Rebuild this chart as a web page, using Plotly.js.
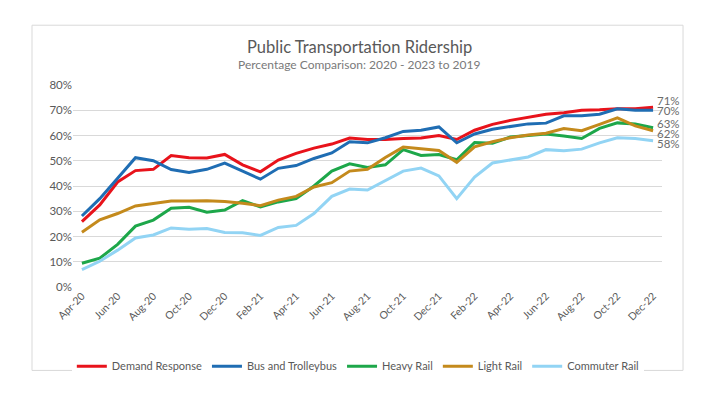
<!DOCTYPE html>
<html>
<head>
<meta charset="utf-8">
<script src="https://cdn.plot.ly/plotly-3.0.1.min.js"></script>
<style>html,body{margin:0;padding:0;background:#fff;}#chart{width:715px;height:393px;}</style>
</head>
<body>
<div id="chart"></div>
<script>
const months = ["Apr-20","May-20","Jun-20","Jul-20","Aug-20","Sep-20","Oct-20","Nov-20","Dec-20","Jan-21","Feb-21","Mar-21","Apr-21","May-21","Jun-21","Jul-21","Aug-21","Sep-21","Oct-21","Nov-21","Dec-21","Jan-22","Feb-22","Mar-22","Apr-22","May-22","Jun-22","Jul-22","Aug-22","Sep-22","Oct-22","Nov-22","Dec-22"];
const tickLabels = ["Apr-20","Jun-20","Aug-20","Oct-20","Dec-20","Feb-21","Apr-21","Jun-21","Aug-21","Oct-21","Dec-21","Feb-22","Apr-22","Jun-22","Aug-22","Oct-22","Dec-22"];

const demandResponse = [25.9,32.5,41.6,46.1,46.6,52.1,51.2,51.1,52.5,48.4,45.6,50.3,52.9,55.0,56.6,59.0,58.4,58.4,58.8,59.0,60.0,58.4,62.1,64.4,66.0,67.1,68.4,69.0,70.0,70.2,70.6,70.6,71.2];
const busTrolleybus = [28.1,35.0,43.1,51.2,50.0,46.5,45.4,46.6,49.1,45.9,42.7,47.0,48.1,50.9,53.1,57.5,57.1,59.1,61.6,62.1,63.4,57.1,60.6,62.5,63.4,64.6,64.9,67.8,67.8,68.4,70.6,70.0,70.0];
const heavyRail = [9.4,11.4,16.9,24.1,26.5,31.2,31.6,29.6,30.5,34.2,31.7,33.7,35.0,40.0,45.9,48.8,47.3,48.4,54.4,52.1,52.5,50.4,57.2,56.9,59.4,60.0,60.6,59.8,58.8,62.8,65.0,64.6,63.1];
const lightRail = [21.7,26.6,29.1,32.1,33.1,34.1,34.1,34.2,33.9,33.2,32.2,34.4,35.9,39.6,41.3,45.9,46.6,51.3,55.4,54.6,54.1,49.4,55.5,57.5,59.1,60.2,60.9,62.8,61.9,64.4,67.0,63.8,61.9];
const commuterRail = [6.9,10.2,14.6,19.4,20.6,23.4,22.9,23.2,21.6,21.5,20.4,23.6,24.4,29.1,35.9,38.8,38.4,42.1,45.9,47.1,44.0,35.0,43.5,49.1,50.2,51.5,54.4,54.0,54.6,57.1,59.1,58.8,57.9];

const seriesNames = ["Demand Response","Bus and Trolleybus","Heavy Rail","Light Rail","Commuter Rail"];
const seriesData = [demandResponse,busTrolleybus,heavyRail,lightRail,commuterRail];
const colors = ["#E8131B","#1F6DB3","#1DA74A","#C48A1C","#92D4F4"];
const labelShift = [6.5,0,4.5,-3,-2.5];

const toFrac = a => a.map(v => v/100);
const traces = seriesNames.map((n,i)=>({
  x: months, y: toFrac(seriesData[i]), type:'scatter', mode:'lines', name:n,
  line:{color:colors[i], width:3}, hoverinfo:'skip'
}));

const fam = "Lato, 'Open Sans', sans-serif";
const annotations = seriesData.map((d,i)=>({
  x: months[months.length-1], y: d[d.length-1]/100, xref:'x', yref:'y',
  text: Math.round(d[d.length-1])+'%', showarrow:false, xanchor:'left', yanchor:'middle',
  xshift:3, yshift:labelShift[i], borderpad:0, font:{family:fam, size:11.5, color:'#6b6b6b'}
}));
annotations.push({xref:'paper', yref:'paper', x:0.4864, y:1.188, text:'Public Transportation Ridership', showarrow:false, xanchor:'center', yanchor:'middle', font:{family:fam, size:16.5, color:'#595959'}});
annotations.push({xref:'paper', yref:'paper', x:0.4864, y:1.103, text:'Percentage Comparison: 2020 - 2023 to 2019', showarrow:false, xanchor:'center', yanchor:'middle', font:{family:fam, size:12, color:'#7a7a7a'}});

const layout = {
  width:715, height:393,
  margin:{l:73, r:53, t:85, b:95},
  paper_bgcolor:'#fff', plot_bgcolor:'#fff',
  showlegend:true,
  legend:{orientation:'h', x:-0.002, xanchor:'left', y:-0.32, yanchor:'top', font:{family:fam, size:11, color:'#595959'}, itemwidth:30, tracegroupgap:0},
  xaxis:{type:'category', range:[-0.5,32.5], tickmode:'array', tickvals:tickLabels, ticktext:tickLabels, tickangle:-45, showgrid:false, zeroline:false, showline:false, ticks:'', tickfont:{family:fam, size:10.5, color:'#595959'}},
  yaxis:{range:[0,0.8], tickmode:'array', tickvals:[0,0.1,0.2,0.3,0.4,0.5,0.6,0.7,0.8], tickformat:'.0%', showgrid:true, gridcolor:'#d9d9d9', gridwidth:1, zeroline:false, showline:false, ticks:'', ticksuffix:'  ', tickfont:{family:fam, size:11.5, color:'#595959'}},
  shapes:[{type:'rect', xref:'paper', yref:'paper', x0:-0.0696, x1:1.0357, y0:-0.413, y1:1.296, line:{color:'#d9d9d9', width:1}, fillcolor:'rgba(0,0,0,0)', layer:'below'}],
  annotations: annotations
};
Plotly.newPlot('chart', traces, layout, {displayModeBar:false, staticPlot:true});
</script>
</body>
</html>
